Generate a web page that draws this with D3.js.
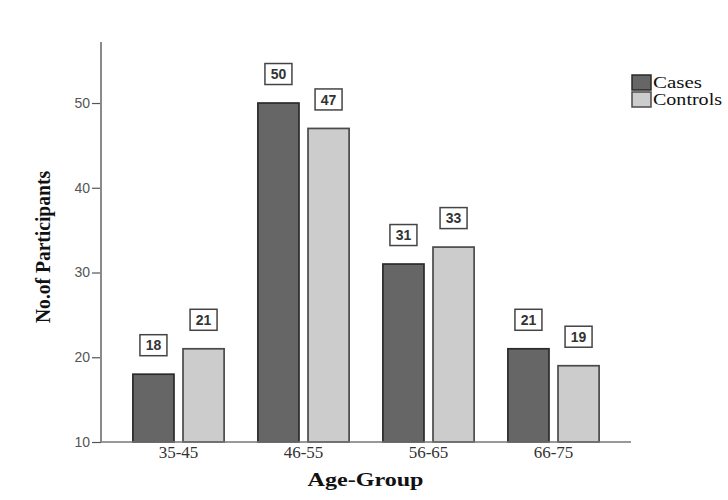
<!DOCTYPE html>
<html>
<head>
<meta charset="utf-8">
<script src="https://cdn.jsdelivr.net/npm/d3@7"></script>
<style>
  html, body { margin: 0; padding: 0; background: #fff; }
  svg { display: block; }
</style>
</head>
<body>
<svg id="chart" width="728" height="500"></svg>
<script>
const categories = ["35-45", "46-55", "56-65", "66-75"];
const seriesNames = ["Cases", "Controls"];
const cases = [18, 50, 31, 21];
const controls = [21, 47, 33, 19];
const yTicks = [10, 20, 30, 40, 50];
const yTitle = "No.of Participants";
const xTitle = "Age-Group";

const seriesValues = [cases, controls];
const fills = ["#666666", "#cccccc"];
const strokes = ["#2a2a2a", "#4a4a4a"];

const svg = d3.select("#chart");
const plotLeft = 101, plotRight = 631, plotTop = 42, plotBottom = 442;

const x0 = d3.scaleBand().domain(categories).range([plotLeft, plotRight])
  .paddingInner(0).paddingOuter(0.12);
const x1 = d3.scaleBand().domain(seriesNames).range([0, x0.bandwidth()])
  .paddingInner(0.18).paddingOuter(0.337);
const y = d3.scaleLinear().domain([10, 57.2]).range([plotBottom, plotTop]);

// bars
const rows = [];
categories.forEach((c, i) => {
  seriesNames.forEach((s, j) => {
    rows.push({ cat: c, series: s, idx: j, value: seriesValues[j][i] });
  });
});

svg.append("g").selectAll("rect").data(rows).enter().append("rect")
  .attr("x", d => x0(d.cat) + x1(d.series))
  .attr("y", d => y(d.value))
  .attr("width", x1.bandwidth())
  .attr("height", d => y(10) - y(d.value))
  .attr("fill", d => fills[d.idx])
  .attr("stroke", d => strokes[d.idx])
  .attr("stroke-width", 1.7);

// value labels
const lab = svg.append("g").selectAll("g").data(rows).enter().append("g")
  .attr("transform", d => `translate(${x0(d.cat) + x1(d.series) + x1.bandwidth() / 2},${y(d.value) - 29})`);
lab.append("rect")
  .attr("x", -13.5).attr("y", -10.5).attr("width", 27).attr("height", 21)
  .attr("fill", "#fff").attr("stroke", "#444").attr("stroke-width", 1.5);
lab.append("text")
  .attr("text-anchor", "middle").attr("dy", "0.37em")
  .attr("font-family", "Liberation Sans, Arial, sans-serif")
  .attr("font-size", 14).attr("font-weight", "bold").attr("fill", "#333")
  .text(d => d.value);

// y axis
const yAxis = d3.axisLeft(y).tickValues(yTicks).tickSize(9).tickPadding(2).tickSizeOuter(0);
const gy = svg.append("g").attr("transform", `translate(${plotLeft},0)`).call(yAxis);
gy.select(".domain").remove();
gy.selectAll(".tick line").attr("stroke", "#555").attr("stroke-width", 1.2);
gy.selectAll(".tick text").attr("font-family", "Liberation Sans, Arial, sans-serif")
  .attr("font-size", 14).attr("fill", "#555");
svg.append("line").attr("x1", plotLeft).attr("x2", plotLeft).attr("y1", plotTop).attr("y2", plotBottom)
  .attr("stroke", "#8a8a8a").attr("stroke-width", 2);

// x axis
const xAxis = d3.axisBottom(x0).tickSize(0).tickPadding(4);
const gx = svg.append("g").attr("transform", `translate(0,${plotBottom})`).call(xAxis);
gx.select(".domain").remove();
gx.selectAll(".tick text").attr("font-family", "Liberation Serif, Times New Roman, serif")
  .attr("font-size", 17).attr("fill", "#333");
svg.append("line").attr("x1", plotLeft).attr("x2", plotRight).attr("y1", plotBottom).attr("y2", plotBottom)
  .attr("stroke", "#777").attr("stroke-width", 1.5);

// titles
svg.append("text")
  .attr("transform", `translate(50,247) rotate(-90)`)
  .attr("text-anchor", "middle")
  .attr("font-family", "Liberation Serif, Times New Roman, serif")
  .attr("font-weight", "bold").attr("font-size", 20).attr("fill", "#111")
  .attr("textLength", 152).attr("lengthAdjust", "spacingAndGlyphs")
  .text(yTitle);
svg.append("text")
  .attr("x", 365.5).attr("y", 486).attr("text-anchor", "middle")
  .attr("font-family", "Liberation Serif, Times New Roman, serif")
  .attr("font-weight", "bold").attr("font-size", 19).attr("fill", "#111")
  .attr("textLength", 116).attr("lengthAdjust", "spacingAndGlyphs")
  .text(xTitle);

// legend
const legendLen = [49, 69];
const lg = svg.append("g").selectAll("g").data(seriesNames).enter().append("g")
  .attr("transform", (d, i) => `translate(632,${75 + i * 17})`);
lg.append("rect").attr("width", 19).attr("height", 15)
  .attr("fill", (d, i) => fills[i]).attr("stroke", (d, i) => strokes[i]).attr("stroke-width", 1.5);
lg.append("text").attr("x", 21).attr("y", 13)
  .attr("font-family", "Liberation Serif, Times New Roman, serif")
  .attr("font-size", 16).attr("fill", "#111")
  .attr("textLength", (d, i) => legendLen[i]).attr("lengthAdjust", "spacingAndGlyphs")
  .text(d => d);
</script>
</body>
</html>
